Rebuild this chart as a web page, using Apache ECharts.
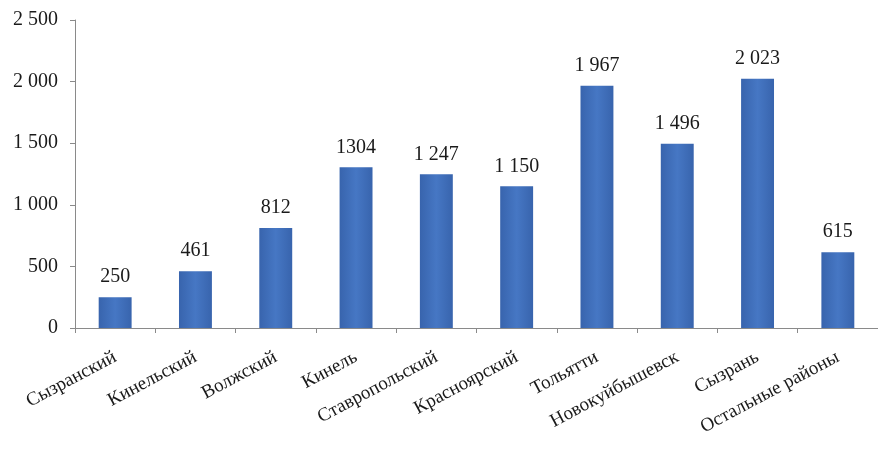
<!DOCTYPE html>
<html><head><meta charset="utf-8">
<script src="https://cdn.jsdelivr.net/npm/echarts@6/dist/echarts.min.js"></script>
<style>html,body{margin:0;padding:0;background:#fff}#c{width:878px;height:461px}</style>
</head><body><div id="c"></div>
<script>
const categories = ["Сызранский","Кинельский","Волжский","Кинель","Ставропольский","Красноярский","Тольятти","Новокуйбышевск","Сызрань","Остальные районы"];
const values = [250,461,812,1304,1247,1150,1967,1496,2023,615];
const valueLabels = ["250","461","812","1304","1 247","1 150","1 967","1 496","2 023","615"];
const yTicks = ["0","500","1 000","1 500","2 000","2 500"];

const chart = echarts.init(document.getElementById('c'), null, {renderer:'canvas'});
const font = '"Liberation Serif","Times New Roman",serif';
chart.setOption({
  animation:false,
  grid:{left:75,right:-6,top:20,bottom:133},
  xAxis:{type:'category',data:categories,
    axisLine:{lineStyle:{color:'#8a8a8a',width:1}},
    axisTick:{show:true,length:5,lineStyle:{color:'#8a8a8a'}},
    axisLabel:{rotate:28,fontFamily:font,fontSize:19,color:'#1a1a1a',margin:28,interval:0}},
  yAxis:{type:'value',min:0,max:2500,interval:500,
    axisLine:{show:true,lineStyle:{color:'#8a8a8a'}},
    axisTick:{show:true,length:5,lineStyle:{color:'#8a8a8a'}},
    splitLine:{show:false},
    axisLabel:{fontFamily:font,fontSize:20,color:'#1a1a1a',margin:17,
      formatter:(v)=>yTicks[Math.round(v/500)]}},
  series:[{type:'bar',data:values,barWidth:'41%',
    itemStyle:{color:new echarts.graphic.LinearGradient(0,0,1,0,[
      {offset:0,color:'#3864ad'},{offset:0.5,color:'#4677c4'},{offset:1,color:'#3864ad'}])},
    label:{show:true,position:'top',distance:10,fontFamily:font,fontSize:20,color:'#1a1a1a',
      formatter:(p)=>valueLabels[p.dataIndex]}}]
});
</script></body></html>
